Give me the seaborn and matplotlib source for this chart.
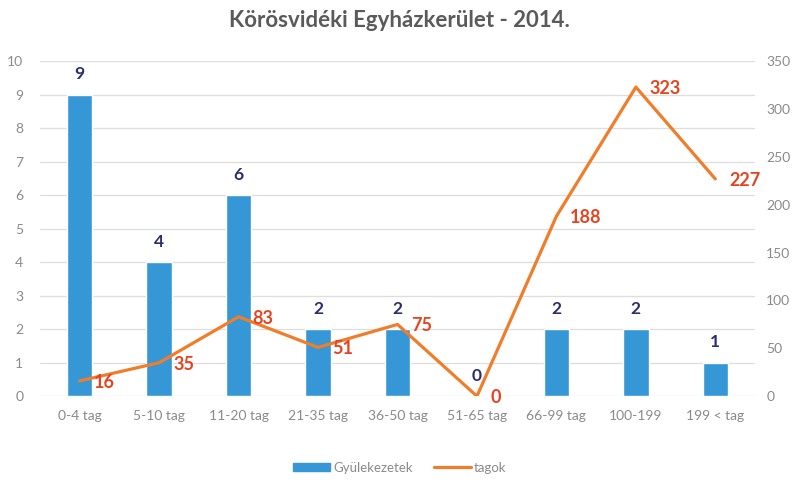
import matplotlib
matplotlib.use('Agg')
import matplotlib.pyplot as plt
import seaborn as sns
import pandas as pd
from matplotlib.patches import Patch
from matplotlib.lines import Line2D

# Data
categories = ['0-4 tag', '5-10 tag', '11-20 tag', '21-35 tag', '36-50 tag',
              '51-65 tag', '66-99 tag', '100-199', '199 < tag']
congregations = [9, 4, 6, 2, 2, 0, 2, 2, 1]
members = [16, 35, 83, 51, 75, 0, 188, 323, 227]

df = pd.DataFrame({'cat': categories, 'gyul': congregations, 'tagok': members})

bar_color = '#3597d6'
line_color = '#f07d2a'
grey = '#8a8a8a'

sns.set_theme(style='whitegrid')
plt.rcParams['font.family'] = ['Lato', 'DejaVu Sans']

fig = plt.figure(figsize=(7.99, 4.82), dpi=100)
ax = fig.add_axes([0.05, 0.178, 0.895, 0.695])

sns.barplot(data=df, x='cat', y='gyul', color=bar_color, width=0.32,
            saturation=1, ax=ax)
ax.set_ylim(0, 10)
ax.set_yticks(range(0, 11))
ax.set_xlim(-0.5, len(categories) - 0.5)
ax.set_xlabel('')
ax.set_ylabel('')
ax.grid(axis='x', visible=False)
ax.grid(axis='y', color='#dedede', linewidth=0.9)
for s in ax.spines.values():
    s.set_visible(False)
ax.tick_params(axis='both', colors=grey, labelsize=10, length=0, pad=10)
ax.tick_params(axis='y', pad=12)

# labels above bars
for i, v in enumerate(congregations):
    ax.annotate(str(v), (i, v), xytext=(0, 9), textcoords='offset points',
                ha='center', va='bottom', fontsize=12.5, fontweight='bold',
                color='#2b2e6e')

ax2 = ax.twinx()
sns.pointplot(data=df, x='cat', y='tagok', color=line_color, markers='',
              linewidth=2.3, ax=ax2)
ax2.set_ylim(0, 350)
ax2.set_yticks(range(0, 351, 50))
ax2.set_xlim(-0.5, len(categories) - 0.5)
ax2.set_ylabel('')
ax2.grid(False)
for s in ax2.spines.values():
    s.set_visible(False)
ax2.tick_params(axis='y', colors=grey, labelsize=10, length=0, pad=8)

for i, v in enumerate(members):
    ax2.annotate(str(v), (i, v), xytext=(10, -1), textcoords='offset points',
                 ha='left', va='center', fontsize=13, fontweight='bold',
                 color='#e8431f')

fig.suptitle('Körösvidéki Egyházkerület - 2014.', x=0.5, y=0.98,
             fontsize=16, fontweight='bold', color='#5a5a5a')

handles = [Patch(color=bar_color), Line2D([], [], color=line_color, linewidth=2.3)]
fig.legend(handles, ['Gyülekezetek', 'tagok'], loc='center',
           bbox_to_anchor=(0.5, 0.03), ncol=2, frameon=False, fontsize=9.5,
           labelcolor=grey, handlelength=2.8, handleheight=0.6,
           handletextpad=0.25, columnspacing=1.6)

fig.savefig('out.png', dpi=100)
